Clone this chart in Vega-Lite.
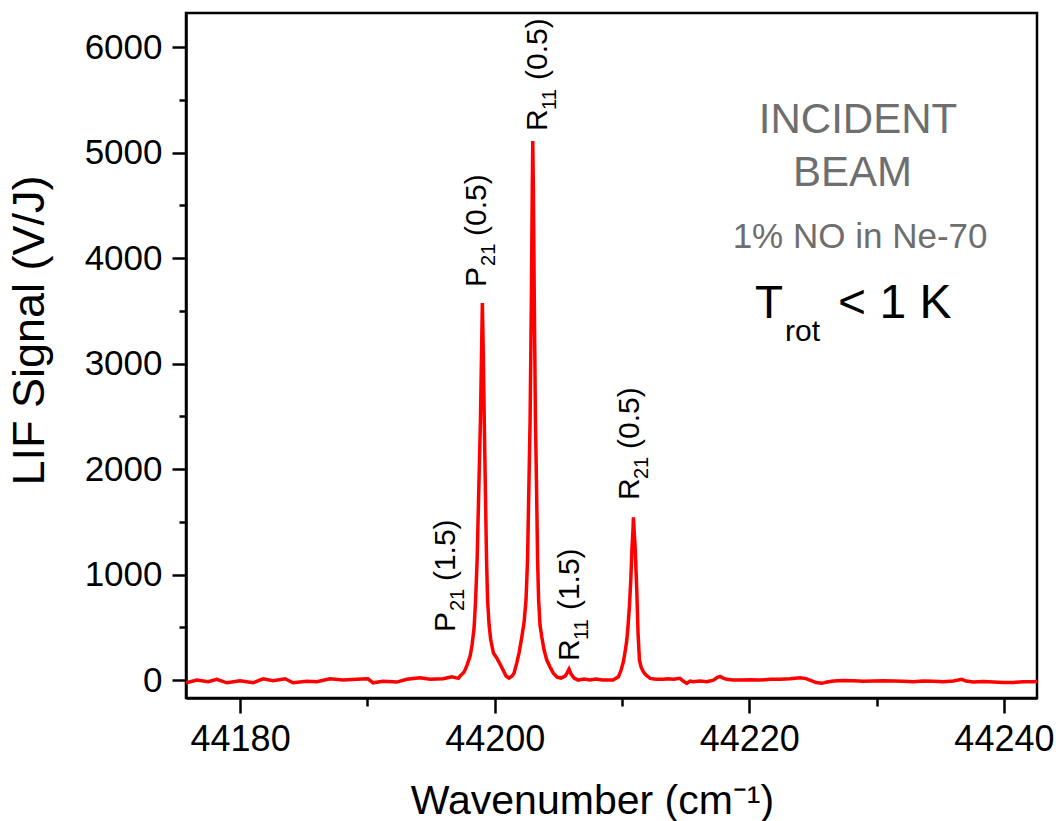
{
  "$schema": "https://vega.github.io/schema/vega-lite/v6.json",
  "width": 851,
  "height": 685,
  "autosize": {"type": "none"},
  "padding": {"left": 186, "top": 13, "right": 19, "bottom": 123},
  "background": "white",
  "config": {
    "view": {"stroke": "black", "strokeWidth": 2.5},
    "font": "Liberation Sans",
    "axis": {"grid": false, "domainColor": "black", "domainWidth": 2.5, "tickColor": "black", "tickWidth": 2.5, "labelColor": "black", "titleColor": "black", "labelFont": "Liberation Sans", "titleFont": "Liberation Sans", "titleFontWeight": "normal"}
  },
  "resolve": {"axis": {"x": "independent", "y": "independent"}},
  "datasets": {
    "peaks": [
      {"letter": "P", "sub": "21", "rest": "(1.5)", "x": 44196.89, "y": 455},
      {"letter": "P", "sub": "21", "rest": "(0.5)", "x": 44199.32, "y": 3728},
      {"letter": "R", "sub": "11", "rest": "(0.5)", "x": 44204.11, "y": 5207},
      {"letter": "R", "sub": "11", "rest": "(1.5)", "x": 44206.63, "y": 180},
      {"letter": "R", "sub": "21", "rest": "(0.5)", "x": 44211.34, "y": 1707}
    ]
  },
  "layer": [
    {
      "data": {"values": [
        {"x":44175.76,"y":-26},{"x":44176.60,"y":0},{"x":44177.49,"y":-16},{"x":44178.17,"y":7},{"x":44178.96,"y":-26},{"x":44180.00,"y":-7},{"x":44181.02,"y":-26},{"x":44181.81,"y":12},{"x":44182.59,"y":-7},{"x":44183.53,"y":12},{"x":44184.16,"y":-26},{"x":44185.24,"y":-12},{"x":44186.02,"y":-16},{"x":44187.07,"y":12},{"x":44188.09,"y":0},{"x":44189.17,"y":7},{"x":44190.05,"y":12},{"x":44190.45,"y":-26},{"x":44191.23,"y":-12},{"x":44192.31,"y":-19},{"x":44193.09,"y":7},{"x":44194.14,"y":22},{"x":44194.92,"y":7},{"x":44195.95,"y":12},{"x":44196.63,"y":31},{"x":44197.15,"y":16},{"x":44197.28,"y":38},{"x":44197.60,"y":76},{"x":44197.83,"y":142},{"x":44198.07,"y":228},{"x":44198.22,"y":332},{"x":44198.38,"y":493},{"x":44198.50,"y":759},{"x":44198.62,"y":1138},{"x":44198.73,"y":1707},{"x":44198.88,"y":2466},{"x":44198.97,"y":3130},{"x":44199.03,"y":3576},{"x":44199.10,"y":3130},{"x":44199.18,"y":2466},{"x":44199.28,"y":1707},{"x":44199.36,"y":1138},{"x":44199.44,"y":759},{"x":44199.56,"y":522},{"x":44199.69,"y":379},{"x":44199.90,"y":256},{"x":44200.16,"y":209},{"x":44200.42,"y":152},{"x":44200.66,"y":95},{"x":44200.89,"y":38},{"x":44201.13,"y":19},{"x":44201.37,"y":38},{"x":44201.52,"y":66},{"x":44201.73,"y":161},{"x":44201.91,"y":256},{"x":44202.13,"y":408},{"x":44202.31,"y":550},{"x":44202.46,"y":759},{"x":44202.58,"y":1138},{"x":44202.68,"y":1802},{"x":44202.78,"y":2466},{"x":44202.88,"y":3604},{"x":44202.95,"y":4648},{"x":44202.99,"y":5112},{"x":44203.04,"y":4648},{"x":44203.11,"y":3604},{"x":44203.20,"y":2466},{"x":44203.29,"y":1802},{"x":44203.37,"y":1138},{"x":44203.45,"y":759},{"x":44203.56,"y":522},{"x":44203.70,"y":408},{"x":44203.88,"y":285},{"x":44204.09,"y":190},{"x":44204.35,"y":123},{"x":44204.61,"y":66},{"x":44204.90,"y":28},{"x":44205.21,"y":19},{"x":44205.53,"y":38},{"x":44205.68,"y":66},{"x":44205.84,"y":104},{"x":44206.00,"y":57},{"x":44206.24,"y":19},{"x":44206.55,"y":0},{"x":44207.02,"y":9},{"x":44207.49,"y":0},{"x":44207.96,"y":9},{"x":44208.44,"y":0},{"x":44208.91,"y":0},{"x":44209.30,"y":0},{"x":44209.72,"y":31},{"x":44209.93,"y":95},{"x":44210.11,"y":174},{"x":44210.24,"y":266},{"x":44210.38,"y":379},{"x":44210.48,"y":522},{"x":44210.58,"y":695},{"x":44210.69,"y":949},{"x":44210.79,"y":1264},{"x":44210.86,"y":1423},{"x":44210.90,"y":1543},{"x":44210.95,"y":1423},{"x":44211.03,"y":1264},{"x":44211.16,"y":854},{"x":44211.26,"y":446},{"x":44211.37,"y":190},{"x":44211.50,"y":123},{"x":44211.68,"y":79},{"x":44211.89,"y":47},{"x":44212.21,"y":16},{"x":44212.68,"y":7},{"x":44213.25,"y":7},{"x":44213.62,"y":12},{"x":44214.04,"y":7},{"x":44214.56,"y":16},{"x":44214.80,"y":-9},{"x":44215.09,"y":-31},{"x":44215.35,"y":-9},{"x":44215.61,"y":-16},{"x":44216.13,"y":-9},{"x":44216.66,"y":-16},{"x":44217.18,"y":0},{"x":44217.47,"y":24},{"x":44217.70,"y":35},{"x":44217.94,"y":19},{"x":44218.23,"y":7},{"x":44218.72,"y":0},{"x":44219.27,"y":0},{"x":44220.06,"y":3},{"x":44220.84,"y":0},{"x":44221.63,"y":7},{"x":44222.42,"y":7},{"x":44223.20,"y":12},{"x":44223.99,"y":22},{"x":44224.46,"y":14},{"x":44224.77,"y":0},{"x":44225.24,"y":-24},{"x":44225.69,"y":-31},{"x":44226.11,"y":-19},{"x":44226.60,"y":-9},{"x":44227.37,"y":-5},{"x":44228.18,"y":-7},{"x":44228.94,"y":-12},{"x":44229.75,"y":-9},{"x":44230.51,"y":-7},{"x":44231.32,"y":-9},{"x":44232.08,"y":-12},{"x":44232.89,"y":-16},{"x":44233.65,"y":-9},{"x":44234.46,"y":-12},{"x":44235.22,"y":-16},{"x":44236.03,"y":-9},{"x":44236.69,"y":7},{"x":44237.03,"y":-9},{"x":44237.60,"y":-19},{"x":44238.36,"y":-14},{"x":44239.17,"y":-19},{"x":44239.93,"y":-22},{"x":44240.74,"y":-22},{"x":44241.50,"y":-16},{"x":44242.31,"y":-16},{"x":44242.60,"y":-14}
      ]},
      "mark": {"type": "line", "color": "#ff0000", "strokeWidth": 3.5, "clip": true},
      "encoding": {
        "x": {"field": "x", "type": "quantitative",
          "scale": {"domain": [44175.75, 44242.6], "nice": false, "zero": false},
          "axis": {"orient": "bottom", "values": [44180, 44200, 44220, 44240], "format": "d", "tickSize": 15, "labelFontSize": 36, "labelPadding": 9, "labelFlush": false, "labelOverlap": false,
            "title": "Wavenumber (cm⁻¹)", "titleFontSize": 41, "titleX": 406, "titleY": 115, "titleAlign": "center", "titleBaseline": "alphabetic", "titleAngle": 0}},
        "y": {"field": "y", "type": "quantitative",
          "scale": {"domain": [-170, 6325], "nice": false, "zero": false},
          "axis": {"orient": "left", "values": [0, 1000, 2000, 3000, 4000, 5000, 6000], "format": "d", "tickSize": 14, "labelFontSize": 35, "labelPadding": 10, "labelOverlap": false, "labelFlush": false,
            "title": "LIF Signal (V/J)", "titleFontSize": 45, "titleAngle": 270, "titleX": -143, "titleY": 317, "titleAlign": "center", "titleBaseline": "alphabetic"}}
      }
    },
    {
      "data": {"values": [{"x": 44200, "y": 0}]},
      "mark": {"type": "point", "opacity": 0},
      "encoding": {
        "x": {"field": "x", "type": "quantitative", "axis": {"orient": "bottom", "values": [44190, 44210, 44230], "labels": false, "domain": false, "tickSize": 8, "title": null}},
        "y": {"field": "y", "type": "quantitative", "axis": {"orient": "left", "values": [500, 1500, 2500, 3500, 4500, 5500], "labels": false, "domain": false, "tickSize": 7, "title": null}}
      }
    },
    {
      "data": {"name": "peaks"},
      "mark": {"type": "text", "angle": 270, "align": "left", "baseline": "alphabetic", "fontSize": 30, "color": "black"},
      "encoding": {
        "x": {"field": "x", "type": "quantitative", "axis": null},
        "y": {"field": "y", "type": "quantitative", "axis": null},
        "text": {"field": "letter"}
      }
    },
    {
      "data": {"name": "peaks"},
      "mark": {"type": "text", "angle": 270, "align": "left", "baseline": "alphabetic", "fontSize": 20, "dx": 21, "dy": 9, "color": "black"},
      "encoding": {
        "x": {"field": "x", "type": "quantitative", "axis": null},
        "y": {"field": "y", "type": "quantitative", "axis": null},
        "text": {"field": "sub"}
      }
    },
    {
      "data": {"name": "peaks"},
      "mark": {"type": "text", "angle": 270, "align": "left", "baseline": "alphabetic", "fontSize": 30, "dx": 51, "color": "black"},
      "encoding": {
        "x": {"field": "x", "type": "quantitative", "axis": null},
        "y": {"field": "y", "type": "quantitative", "axis": null},
        "text": {"field": "rest"}
      }
    },
    {
      "data": {"values": [{"t": "INCIDENT", "x": 44228.54, "y": 5188}, {"t": "BEAM", "x": 44228.11, "y": 4686}]},
      "mark": {"type": "text", "align": "center", "baseline": "alphabetic", "fontSize": 42, "color": "#6e6e6e"},
      "encoding": {
        "x": {"field": "x", "type": "quantitative", "axis": null},
        "y": {"field": "y", "type": "quantitative", "axis": null},
        "text": {"field": "t"}
      }
    },
    {
      "data": {"values": [{"t": "1% NO in Ne-70", "x": 44228.70, "y": 4095}]},
      "mark": {"type": "text", "align": "center", "baseline": "alphabetic", "fontSize": 35, "color": "#6e6e6e"},
      "encoding": {
        "x": {"field": "x", "type": "quantitative", "axis": null},
        "y": {"field": "y", "type": "quantitative", "axis": null},
        "text": {"field": "t"}
      }
    },
    {
      "data": {"values": [{"t": "T", "x": 44220.45, "y": 3434}]},
      "mark": {"type": "text", "align": "left", "baseline": "alphabetic", "fontSize": 46, "color": "black"},
      "encoding": {
        "x": {"field": "x", "type": "quantitative", "axis": null},
        "y": {"field": "y", "type": "quantitative", "axis": null},
        "text": {"field": "t"}
      }
    },
    {
      "data": {"values": [{"t": "< 1 K", "x": 44226.97, "y": 3434}]},
      "mark": {"type": "text", "align": "left", "baseline": "alphabetic", "fontSize": 48, "color": "black"},
      "encoding": {
        "x": {"field": "x", "type": "quantitative", "axis": null},
        "y": {"field": "y", "type": "quantitative", "axis": null},
        "text": {"field": "t"}
      }
    },
    {
      "data": {"values": [{"t": "rot", "x": 44222.81, "y": 3215}]},
      "mark": {"type": "text", "align": "left", "baseline": "alphabetic", "fontSize": 30, "color": "black"},
      "encoding": {
        "x": {"field": "x", "type": "quantitative", "axis": null},
        "y": {"field": "y", "type": "quantitative", "axis": null},
        "text": {"field": "t"}
      }
    }
  ]
}
